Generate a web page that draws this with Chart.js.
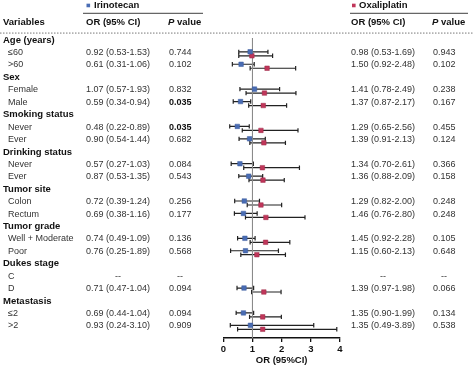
<!DOCTYPE html>
<html><head><meta charset="utf-8">
<script src="https://cdn.jsdelivr.net/npm/chart.js@4"></script>
<style>html,body{margin:0;padding:0;background:#fff}</style>
</head><body><canvas id="c" width="474" height="366"></canvas>
<script>
const rowLabels = ['Age (years)','≤60','>60','Sex','Female','Male','Smoking status','Never','Ever','Drinking status','Never','Ever','Tumor site','Colon','Rectum','Tumor grade','Well + Moderate','Poor','Dukes stage','C','D','Metastasis','≤2','>2'];
const rowIsGroup = [1,0,0,1,0,0,1,0,0,1,0,0,1,0,0,1,0,0,1,0,0,1,0,0];
const iriOR = [null,0.92,0.61,null,1.07,0.59,null,0.48,0.90,null,0.57,0.87,null,0.72,0.69,null,0.74,0.76,null,null,0.71,null,0.69,0.93];
const iriLo = [null,0.53,0.31,null,0.57,0.34,null,0.22,0.54,null,0.27,0.53,null,0.39,0.38,null,0.49,0.25,null,null,0.47,null,0.44,0.24];
const iriHi = [null,1.53,1.06,null,1.93,0.94,null,0.89,1.44,null,1.03,1.35,null,1.24,1.16,null,1.09,1.89,null,null,1.04,null,1.04,3.10];
const iriP  = ['','0.744','0.102','','0.832','0.035','','0.035','0.682','','0.084','0.543','','0.256','0.177','','0.136','0.568','','--','0.094','','0.094','0.909'];
const oxaOR = [null,0.98,1.50,null,1.41,1.37,null,1.29,1.39,null,1.34,1.36,null,1.29,1.46,null,1.45,1.15,null,null,1.39,null,1.35,1.35];
const oxaLo = [null,0.53,0.92,null,0.78,0.87,null,0.65,0.91,null,0.70,0.88,null,0.82,0.76,null,0.92,0.60,null,null,0.97,null,0.90,0.49];
const oxaHi = [null,1.69,2.48,null,2.49,2.17,null,2.56,2.13,null,2.61,2.09,null,2.00,2.80,null,2.28,2.13,null,null,1.98,null,1.99,3.89];
const oxaP  = ['','0.943','0.102','','0.238','0.167','','0.455','0.124','','0.366','0.158','','0.248','0.248','','0.105','0.648','','--','0.066','','0.134','0.538'];
const seriesNames = ['Irinotecan','Oxaliplatin'];
const xTicks = [0,1,2,3,4];
const xTitle = 'OR (95%CI)';
const refValue = 1;

const FONT = "'Liberation Sans', Arial, sans-serif";
const BLUE = '#4a6db4', RED = '#c0365a';
const BLUE_OFF = -0.05, RED_OFF = 0.27;

function pts(or, off){
  const out = [];
  or.forEach((v,i)=>{ if(v!==null) out.push({x:v, y:i+off}); });
  return out;
}
const f2 = v => v.toFixed(2);
function ciText(or,lo,hi,i){
  if(rowIsGroup[i]) return '';
  if(or===null) return '--';
  return `${f2(or)} (${f2(lo)}-${f2(hi)})`;
}

const errorBars = {
  id:'errorBars',
  beforeDatasetsDraw(chart){
    const ctx = chart.ctx, xs = chart.scales.x, ys = chart.scales.y;
    ctx.save();
    ctx.strokeStyle = '#222'; ctx.lineWidth = 1.2;
    const sets = [[iriOR,iriLo,iriHi,BLUE_OFF],[oxaOR,oxaLo,oxaHi,RED_OFF]];
    sets.forEach(([or,lo,hi,off])=>{
      or.forEach((v,i)=>{
        if(v===null) return;
        const y = ys.getPixelForValue(i+off);
        const x1 = xs.getPixelForValue(lo[i]), x2 = xs.getPixelForValue(hi[i]);
        ctx.beginPath();
        ctx.moveTo(x1,y); ctx.lineTo(x2,y);
        ctx.moveTo(x1,y-2.2); ctx.lineTo(x1,y+2.2);
        ctx.moveTo(x2,y-2.2); ctx.lineTo(x2,y+2.2);
        ctx.stroke();
      });
    });
    ctx.restore();
  }
};

const tablePlugin = {
  id:'table',
  afterDraw(chart){
    const ctx = chart.ctx, ys = chart.scales.y;
    const Y = v => ys.getPixelForValue(v);
    ctx.save();
    ctx.textBaseline = 'middle';
    const bold = `bold 9.5px ${FONT}`, reg = `9px ${FONT}`;
    const heads = [[seriesNames[0], BLUE, 86.5, 94, 83, 203],[seriesNames[1], RED, 352, 359, 350, 468]];
    heads.forEach(([name,col,sx,tx,l1,l2])=>{
      ctx.fillStyle = col;
      ctx.fillRect(sx, Y(-2.78)-1.8, 3.6, 3.6);
      ctx.fillStyle = '#111'; ctx.font = bold; ctx.textAlign='left';
      ctx.fillText(name, tx, Y(-2.78));
      ctx.strokeStyle = '#666'; ctx.lineWidth = 1.2;
      ctx.beginPath(); ctx.moveTo(l1, Y(-2.15)); ctx.lineTo(l2, Y(-2.15)); ctx.stroke();
    });
    ctx.fillStyle = '#111'; ctx.font = bold; ctx.textAlign='left';
    ctx.fillText('Variables', 3, Y(-1.45));
    [[86,168],[351,432]].forEach(([ox,px])=>{
      ctx.font = bold;
      ctx.fillText('OR (95% CI)', ox, Y(-1.45));
      ctx.font = `italic bold 9.5px ${FONT}`;
      ctx.fillText('P', px, Y(-1.45));
      const w = ctx.measureText('P').width;
      ctx.font = bold;
      ctx.fillText(' value', px + w, Y(-1.45));
    });
    ctx.strokeStyle = '#777'; ctx.lineWidth = 1; ctx.setLineDash([1.5,1.5]);
    ctx.beginPath(); ctx.moveTo(0, Y(-0.56)); ctx.lineTo(474, Y(-0.56)); ctx.stroke();
    ctx.setLineDash([]);
    rowLabels.forEach((lab,i)=>{
      const y = Y(i);
      if(rowIsGroup[i]){
        ctx.font = bold; ctx.fillStyle = '#111'; ctx.textAlign='left';
        ctx.fillText(lab, 3, y);
        return;
      }
      ctx.font = reg; ctx.fillStyle = '#333'; ctx.textAlign='left';
      ctx.fillText(lab, 8, y);
      const cols = [
        [ciText(iriOR[i],iriLo[i],iriHi[i],i), 86, 118, iriP[i], 169, 180],
        [ciText(oxaOR[i],oxaLo[i],oxaHi[i],i), 351, 383, oxaP[i], 433, 444]
      ];
      cols.forEach(([ci,cx,cc,p,px,pc])=>{
        ctx.fillStyle = '#333';
        if(ci==='--'){ ctx.font=reg; ctx.textAlign='center'; ctx.fillText('--', cc, y); }
        else { ctx.font=reg; ctx.textAlign='left'; ctx.fillText(ci, cx, y); }
        if(p==='--'){ ctx.font=reg; ctx.textAlign='center'; ctx.fillText('--', pc, y); }
        else {
          const sig = parseFloat(p) < 0.05;
          ctx.font = sig ? `bold 9px ${FONT}` : reg; ctx.fillStyle = sig ? '#111' : '#333';
          ctx.textAlign='left'; ctx.fillText(p, px, y);
        }
      });
    });
    ctx.restore();
  }
};

new Chart(document.getElementById('c'), {
  type:'scatter',
  data:{
    datasets:[
      {label:seriesNames[0], data:pts(iriOR,BLUE_OFF), pointStyle:'rect', pointRadius:3.2, pointHoverRadius:3.2, backgroundColor:BLUE, borderColor:'#3a5a9c', borderWidth:0.5},
      {label:seriesNames[1], data:pts(oxaOR,RED_OFF), pointStyle:'rect', pointRadius:3.2, pointHoverRadius:3.2, backgroundColor:RED, borderColor:'#9c2a48', borderWidth:0.5},
      {label:'ref', data:[{x:refValue,y:-0.16},{x:refValue,y:23.97}], showLine:true, pointRadius:0, borderColor:'#8a8a8a', borderWidth:1}
    ]
  },
  options:{
    responsive:false, animation:false, devicePixelRatio:1,
    layout:{autoPadding:false, padding:{left:223.3, right:134, top:0, bottom:0}},
    plugins:{legend:{display:false}, tooltip:{enabled:false}},
    scales:{
      y:{type:'linear', display:false, reverse:true, min:-3.22, max:23.97},
      x:{type:'linear', position:'bottom', min:0, max:4,
         afterBuildTicks: s => { s.ticks = xTicks.map(v=>({value:v})); },
         afterFit: s => { s.height = 28; },
         ticks:{font:{family:FONT, size:9.5, weight:'bold'}, color:'#111', padding:2},
         grid:{drawOnChartArea:false, drawTicks:true, tickLength:4, color:'#111', lineWidth:1.3},
         border:{display:true, color:'#111', width:1.5},
         title:{display:true, text:xTitle, font:{family:FONT, size:9.5, weight:'bold'}, color:'#111', padding:{top:0,bottom:0}}
      }
    }
  },
  plugins:[errorBars, tablePlugin]
});
</script></body></html>
